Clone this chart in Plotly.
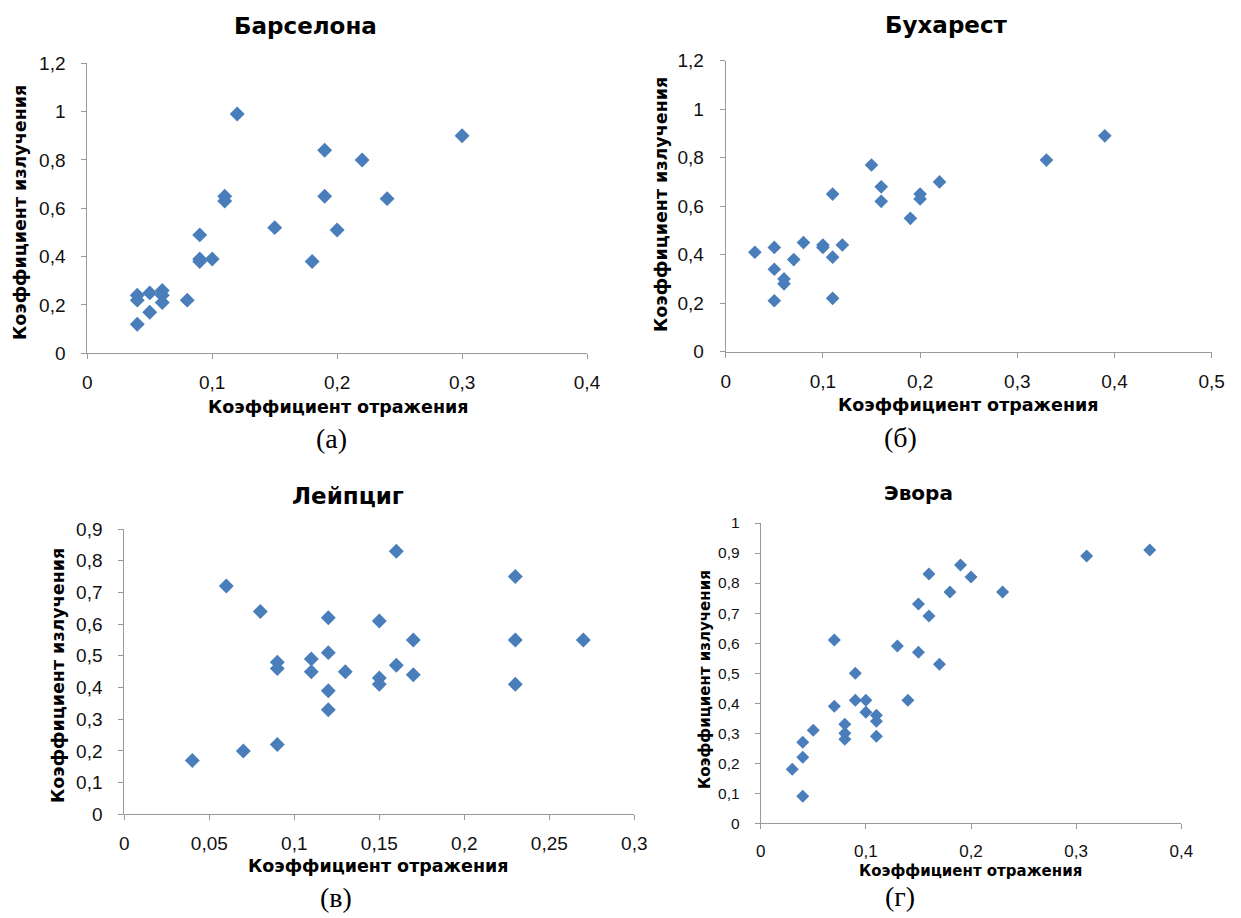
import plotly.graph_objects as go

W, H = 1241, 918

# --- data -------------------------------------------------------------
barcelona_refl = [0.12, 0.19, 0.22, 0.19, 0.24, 0.11, 0.11, 0.15, 0.20, 0.09, 0.18, 0.09,
                  0.09, 0.10, 0.08, 0.04, 0.04, 0.05, 0.06, 0.06, 0.06, 0.05, 0.04, 0.30]
barcelona_emis = [0.99, 0.84, 0.80, 0.65, 0.64, 0.65, 0.63, 0.52, 0.51, 0.49, 0.38, 0.39,
                  0.38, 0.39, 0.22, 0.24, 0.22, 0.25, 0.26, 0.24, 0.21, 0.17, 0.12, 0.90]

bucharest_refl = [0.39, 0.33, 0.15, 0.22, 0.16, 0.11, 0.20, 0.20, 0.16, 0.19, 0.03, 0.05,
                  0.08, 0.10, 0.10, 0.12, 0.11, 0.07, 0.05, 0.06, 0.06, 0.05, 0.11]
bucharest_emis = [0.89, 0.79, 0.77, 0.70, 0.68, 0.65, 0.65, 0.63, 0.62, 0.55, 0.41, 0.43,
                  0.45, 0.44, 0.43, 0.44, 0.39, 0.38, 0.34, 0.30, 0.28, 0.21, 0.22]

leipzig_refl = [0.16, 0.23, 0.06, 0.08, 0.12, 0.15, 0.17, 0.23, 0.27, 0.12, 0.11, 0.09, 0.09,
                0.16, 0.11, 0.13, 0.17, 0.15, 0.15, 0.23, 0.12, 0.12, 0.09, 0.07, 0.04]
leipzig_emis = [0.83, 0.75, 0.72, 0.64, 0.62, 0.61, 0.55, 0.55, 0.55, 0.51, 0.49, 0.48, 0.46,
                0.47, 0.45, 0.45, 0.44, 0.43, 0.41, 0.41, 0.39, 0.33, 0.22, 0.20, 0.17]

evora_refl = [0.37, 0.31, 0.19, 0.16, 0.20, 0.18, 0.23, 0.15, 0.16, 0.07, 0.13, 0.15, 0.17,
              0.09, 0.09, 0.10, 0.14, 0.07, 0.10, 0.11, 0.11, 0.08, 0.08, 0.08, 0.11, 0.05,
              0.04, 0.04, 0.03, 0.04]
evora_emis = [0.91, 0.89, 0.86, 0.83, 0.82, 0.77, 0.77, 0.73, 0.69, 0.61, 0.59, 0.57, 0.53,
              0.50, 0.41, 0.41, 0.41, 0.39, 0.37, 0.36, 0.34, 0.33, 0.30, 0.28, 0.29, 0.31,
              0.27, 0.22, 0.18, 0.09]

# axis ticks and their labels (decimal comma)
x_ticks_a = [0, 0.1, 0.2, 0.3, 0.4]
x_text_a = ["0", "0,1", "0,2", "0,3", "0,4"]
y_ticks_ab = [0, 0.2, 0.4, 0.6, 0.8, 1.0, 1.2]
y_text_ab = ["0", "0,2", "0,4", "0,6", "0,8", "1", "1,2"]
x_ticks_b = [0, 0.1, 0.2, 0.3, 0.4, 0.5]
x_text_b = ["0", "0,1", "0,2", "0,3", "0,4", "0,5"]
x_ticks_c = [0, 0.05, 0.1, 0.15, 0.2, 0.25, 0.3]
x_text_c = ["0", "0,05", "0,1", "0,15", "0,2", "0,25", "0,3"]
y_ticks_c = [0, 0.1, 0.2, 0.3, 0.4, 0.5, 0.6, 0.7, 0.8, 0.9]
y_text_c = ["0", "0,1", "0,2", "0,3", "0,4", "0,5", "0,6", "0,7", "0,8", "0,9"]
x_ticks_d = [0, 0.1, 0.2, 0.3, 0.4]
x_text_d = ["0", "0,1", "0,2", "0,3", "0,4"]
y_ticks_d = [0, 0.1, 0.2, 0.3, 0.4, 0.5, 0.6, 0.7, 0.8, 0.9, 1.0]
y_text_d = ["0", "0,1", "0,2", "0,3", "0,4", "0,5", "0,6", "0,7", "0,8", "0,9", "1"]

titles = ["Барселона", "Бухарест", "Лейпциг", "Эвора"]
letters = ["(а)", "(б)", "(в)", "(г)"]
x_title = "Коэффициент отражения"
y_title = "Коэффициент излучения"

# --- styling ----------------------------------------------------------
BLUE = "#4a7ebb"
AXIS = "#9a9a9a"
SANS = "DejaVu Sans"
TICK_FONT = "Liberation Sans"
SERIF = "Liberation Serif"


def fx(px):
    return px / W


def fy(py):
    return 1 - py / H


fig = go.Figure()

panels = [
    dict(x=barcelona_refl, y=barcelona_emis, ms=11.5, xd=(87.3, 587), yd=(353.3, 63.3),
         xr=[0, 0.4], yr=[0, 1.2], xt=(x_ticks_a, x_text_a), yt=(y_ticks_ab, y_text_ab),
         xf=19, yf=19),
    dict(x=bucharest_refl, y=bucharest_emis, ms=10.5, xd=(725.7, 1211.7), yd=(351.7, 60.7),
         xr=[0, 0.5], yr=[0, 1.2], xt=(x_ticks_b, x_text_b), yt=(y_ticks_ab, y_text_ab),
         xf=19, yf=19),
    dict(x=leipzig_refl, y=leipzig_emis, ms=11.5, xd=(124.3, 634.3), yd=(814.3, 529),
         xr=[0, 0.3], yr=[0, 0.9], xt=(x_ticks_c, x_text_c), yt=(y_ticks_c, y_text_c),
         xf=19, yf=19),
    dict(x=evora_refl, y=evora_emis, ms=10, xd=(760.7, 1181.3), yd=(823.3, 523),
         xr=[0, 0.4], yr=[0, 1.0], xt=(x_ticks_d, x_text_d), yt=(y_ticks_d, y_text_d),
         xf=17, yf=15.5),
]

for i, p in enumerate(panels, start=1):
    sfx = "" if i == 1 else str(i)
    fig.add_trace(go.Scatter(
        x=p["x"], y=p["y"], mode="markers",
        marker=dict(symbol="diamond", size=p["ms"], color=BLUE, line=dict(width=0)),
        xaxis="x" + sfx, yaxis="y" + sfx, cliponaxis=False, showlegend=False,
    ))
    common = dict(showgrid=False, zeroline=False, showline=True, linecolor=AXIS, linewidth=1,
                  ticks="outside", ticklen=5, tickcolor=AXIS, tickwidth=1,
                  tickmode="array", fixedrange=True, automargin=False)
    fig.update_layout(**{
        "xaxis" + sfx: dict(common, domain=[fx(p["xd"][0]), fx(p["xd"][1])], range=p["xr"],
                            tickvals=p["xt"][0], ticktext=p["xt"][1],
                            anchor="y" + sfx, ticklabelstandoff=7,
                            tickfont=dict(family=TICK_FONT, size=p["xf"], color="#111")),
        "yaxis" + sfx: dict(common, domain=[fy(p["yd"][0]), fy(p["yd"][1])], range=p["yr"],
                            tickvals=p["yt"][0], ticktext=p["yt"][1],
                            anchor="x" + sfx, ticklabelstandoff=12,
                            tickfont=dict(family=TICK_FONT, size=p["yf"], color="#111")),
    })

annotations = []


def label(text, x, y, size, family=SANS, bold=True, angle=0):
    annotations.append(dict(
        text=f"<b>{text}</b>" if bold else text, x=fx(x), y=fy(y),
        xref="paper", yref="paper", xanchor="center", yanchor="middle",
        showarrow=False, textangle=angle,
        font=dict(family=family, size=size, color="#000"),
    ))


# chart titles
label(titles[0], 305, 26, 23)
label(titles[1], 946, 25, 23)
label(titles[2], 348, 496, 23)
label(titles[3], 918, 493, 20)

# axis titles
label(x_title, 338, 407, 17.5)
label(y_title, 20, 213, 17.5, angle=-90)
label(x_title, 968, 405, 17.5)
label(y_title, 661, 205, 17.5, angle=-90)
label(x_title, 378, 866, 17.5)
label(y_title, 58, 676, 17.5, angle=-90)
label(x_title, 970, 871, 15)
label(y_title, 705, 680, 15, angle=-90)

# panel letters
label(letters[0], 331, 439, 28, family=SERIF, bold=False)
label(letters[1], 900, 437, 28, family=SERIF, bold=False)
label(letters[2], 336, 897, 28, family=SERIF, bold=False)
label(letters[3], 900, 896, 28, family=SERIF, bold=False)

fig.update_layout(
    width=W, height=H,
    margin=dict(l=0, r=0, t=0, b=0, autoexpand=False),
    paper_bgcolor="white", plot_bgcolor="white",
    annotations=annotations,
)

# page without the default body margin so the figure fills the window exactly
fig.write_html(
    "out.html",
    config={"displayModeBar": False},
    post_script="document.body.style.margin='0';document.body.style.overflow='hidden';",
)
